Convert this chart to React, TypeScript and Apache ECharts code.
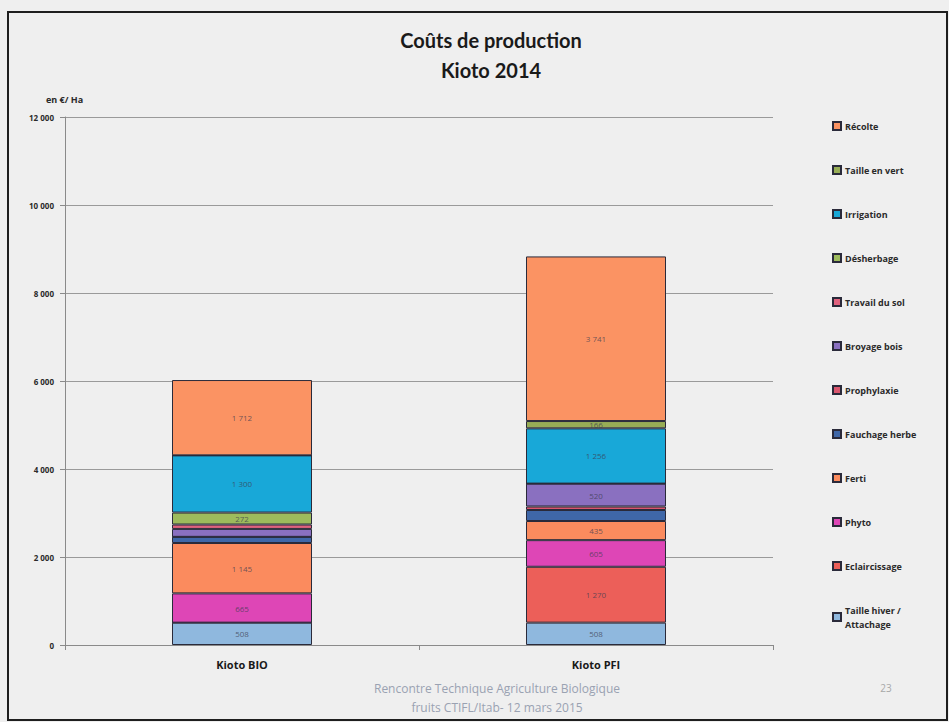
import React, { useEffect, useRef } from "react";
import * as echarts from "echarts";

const categories = ["Kioto BIO", "Kioto PFI"];
const seriesNames = [
  "Taille hiver / Attachage",
  "Eclaircissage",
  "Phyto",
  "Ferti",
  "Fauchage herbe",
  "Prophylaxie",
  "Broyage bois",
  "Travail du sol",
  "Désherbage",
  "Irrigation",
  "Taille en vert",
  "Récolte",
];
const tailleHiver = [508, 508];
const eclaircissage = [0, 1270];
const phyto = [665, 605];
const ferti = [1145, 435];
const fauchageHerbe = [140, 250];
const prophylaxie = [0, 80];
const broyageBois = [180, 520];
const travailSol = [100, 0];
const desherbage = [272, 0];
const irrigation = [1300, 1256];
const tailleVert = [0, 166];
const recolte = [1712, 3741];
const yTicks = [0, 2000, 4000, 6000, 8000, 10000, 12000];

const seriesValues = [
  tailleHiver,
  eclaircissage,
  phyto,
  ferti,
  fauchageHerbe,
  prophylaxie,
  broyageBois,
  travailSol,
  desherbage,
  irrigation,
  tailleVert,
  recolte,
];
const colors = [
  "#8fb8de",
  "#ec5f59",
  "#de46b6",
  "#fb8b5e",
  "#3f67a8",
  "#d9566e",
  "#8a70c0",
  "#e0627e",
  "#9dbb5c",
  "#18a8d8",
  "#97ad56",
  "#fb9363",
];
const labelledSmall = ["Taille en vert", "Désherbage"];

const fmt = (v: number) => String(v).replace(/\B(?=(\d{3})+(?!\d))/g, " ");

export default function App() {
  const ref = useRef<HTMLDivElement>(null);
  useEffect(() => {
    document.body.style.margin = "0";
    document.body.style.background = "#efefef";
    const chart = echarts.init(ref.current!, null, { renderer: "svg" });
    const series = seriesNames.map((name, i) => ({
      name,
      type: "bar",
      stack: "total",
      barWidth: 140,
      data: seriesValues[i],
      itemStyle: { color: colors[i], borderColor: "#2a2a3a", borderWidth: 1 },
      label: {
        show: true,
        position: "inside",
        fontSize: 8,
        fontFamily: "Open Sans",
        color: "rgba(60,60,80,0.75)",
        formatter: (p: any) =>
          p.value >= 400 || (p.value > 0 && labelledSmall.includes(p.seriesName))
            ? fmt(p.value)
            : "",
      },
    }));
    chart.setOption({
      animation: false,
      backgroundColor: "#efefef",
      grid: { left: 65, right: 176, top: 117, bottom: 77, containLabel: false },
      legend: {
        orient: "vertical",
        left: 827,
        top: 114,
        itemWidth: 8,
        itemHeight: 8,
        itemGap: 30,
        icon: "rect",
        data: [...seriesNames].reverse(),
        formatter: (n: string) =>
          n === "Taille hiver / Attachage" ? "Taille hiver /\nAttachage" : n,
        textStyle: {
          fontFamily: "Open Sans",
          fontWeight: "bold",
          fontSize: 9,
          lineHeight: 14,
          color: "#2a2a2a",
          padding: [0, 0, 0, -1],
        },
      },
      xAxis: {
        type: "category",
        data: categories,
        axisLine: { lineStyle: { color: "#8a8a8a" } },
        axisTick: { show: true, length: 5, lineStyle: { color: "#8a8a8a" } },
        axisLabel: {
          margin: 14,
          fontFamily: "Open Sans",
          fontWeight: "bold",
          fontSize: 11,
          color: "#1a1a1a",
        },
      },
      yAxis: {
        type: "value",
        min: yTicks[0],
        max: yTicks[yTicks.length - 1],
        interval: 2000,
        axisLine: { show: true, lineStyle: { color: "#8a8a8a" } },
        axisTick: { show: true, length: 5, lineStyle: { color: "#8a8a8a" } },
        axisLabel: {
          margin: 11,
          fontFamily: "Open Sans",
          fontWeight: "bold",
          fontSize: 8,
          color: "#2a2a2a",
          formatter: (v: number) => fmt(v),
        },
        splitLine: { lineStyle: { color: "#9a9a9a", width: 1 } },
      },
      series,
      graphic: [
        {
          type: "rect",
          shape: { x: 8, y: 12, width: 939, height: 708 },
          style: { fill: "none", stroke: "#1e1e1e", lineWidth: 2 },
          silent: true,
        },
        {
          type: "text",
          x: 491,
          y: 40,
          style: {
            text: "Coûts de production",
            font: "bold 20px Lato",
            fill: "#1a1a1a",
            textAlign: "center",
            textVerticalAlign: "middle",
          },
        },
        {
          type: "text",
          x: 491,
          y: 70,
          style: {
            text: "Kioto 2014",
            font: "bold 20px Lato",
            fill: "#1a1a1a",
            textAlign: "center",
            textVerticalAlign: "middle",
          },
        },
        {
          type: "text",
          x: 46,
          y: 99,
          style: {
            text: "en €/ Ha",
            font: "bold 9px 'Open Sans'",
            fill: "#2a2a2a",
            textVerticalAlign: "middle",
          },
        },
        {
          type: "text",
          x: 497,
          y: 688,
          style: {
            text: "Rencontre Technique Agriculture Biologique",
            font: "12px 'Open Sans'",
            fill: "#9aa2b2",
            textAlign: "center",
            textVerticalAlign: "middle",
          },
        },
        {
          type: "text",
          x: 497,
          y: 707,
          style: {
            text: "fruits CTIFL/Itab- 12 mars 2015",
            font: "12px 'Open Sans'",
            fill: "#9aa2b2",
            textAlign: "center",
            textVerticalAlign: "middle",
          },
        },
        {
          type: "text",
          x: 886,
          y: 688,
          style: {
            text: "23",
            font: "10px 'Open Sans'",
            fill: "#a8a8a8",
            textAlign: "center",
            textVerticalAlign: "middle",
          },
        },
      ],
    });
    return () => chart.dispose();
  }, []);
  return (
    <div
      ref={ref}
      style={{ position: "absolute", left: 0, top: 0, width: 949, height: 722 }}
    />
  );
}
